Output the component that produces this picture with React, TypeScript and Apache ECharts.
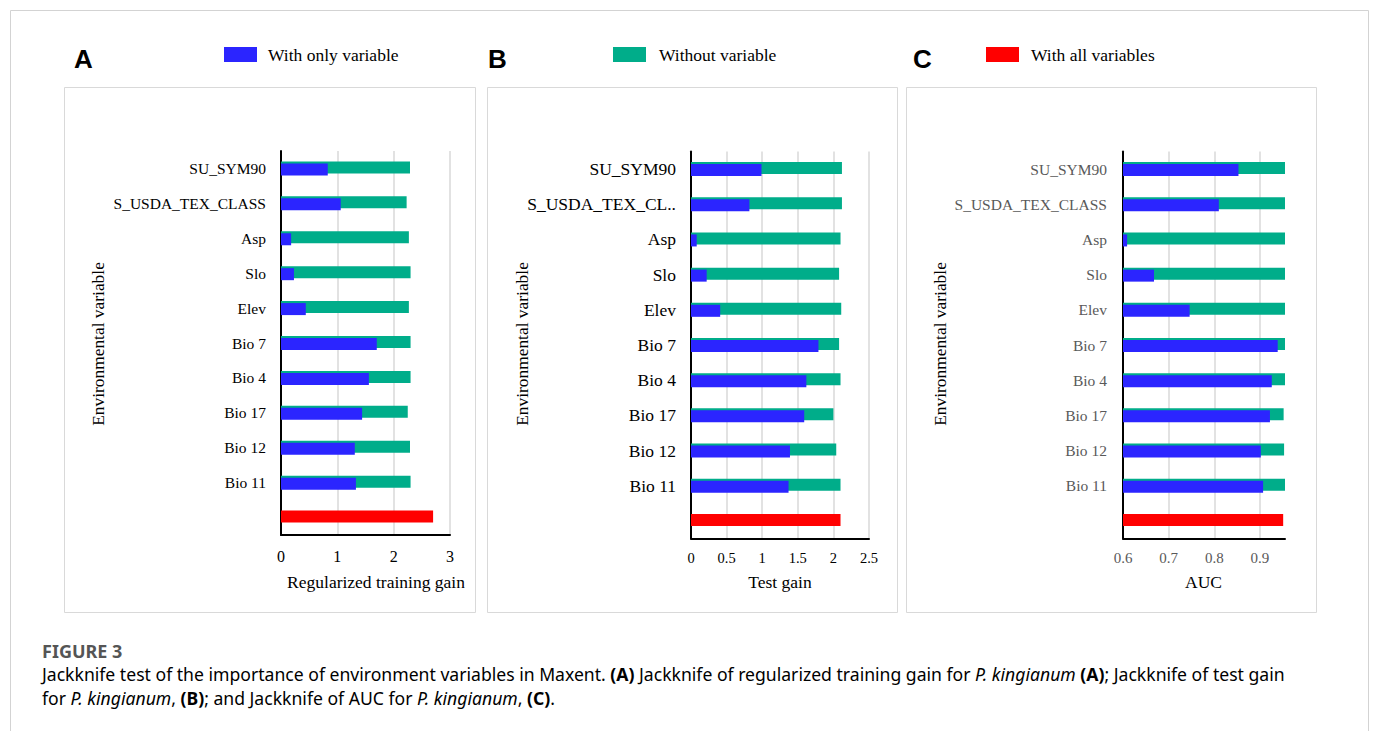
import React, { useEffect, useRef } from 'react';
import * as echarts from 'echarts';

const categories = ['SU_SYM90', 'S_USDA_TEX_CLASS', 'Asp', 'Slo', 'Elev', 'Bio 7', 'Bio 4', 'Bio 17', 'Bio 12', 'Bio 11', ''];

// Panel A: regularized training gain
const trainOnly = [0.83, 1.06, 0.18, 0.23, 0.44, 1.70, 1.56, 1.44, 1.31, 1.33];
const trainWithout = [2.29, 2.23, 2.27, 2.30, 2.27, 2.30, 2.30, 2.25, 2.29, 2.30];
const trainAll = 2.70;

// Panel B: test gain
const testOnly = [0.99, 0.82, 0.08, 0.22, 0.41, 1.79, 1.62, 1.59, 1.39, 1.37];
const testWithout = [2.12, 2.12, 2.10, 2.08, 2.11, 2.08, 2.10, 2.00, 2.04, 2.10];
const testAll = 2.10;

// Panel C: AUC
const aucOnly = [0.853, 0.810, 0.609, 0.668, 0.746, 0.939, 0.926, 0.922, 0.902, 0.907];
const aucWithout = [0.955, 0.955, 0.955, 0.955, 0.955, 0.955, 0.955, 0.952, 0.953, 0.955];
const aucAll = 0.951;

const xTitles = ['Regularized training gain', 'Test gain', 'AUC'];
const panelLetters = ['A', 'B', 'C'];
const legendNames = ['With only variable', 'Without variable', 'With all variables'];

const BLUE = '#2b25ff';
const GREEN = '#00ad8a';
const RED = '#ff0000';
const SERIF = "'Liberation Serif', 'Times New Roman', serif";
const SANS = "'Liberation Sans', Arial, sans-serif";
const CAP = "'Noto Sans', 'Open Sans', sans-serif";

function panelSeries(idx: number, only: number[], without: number[], all: number) {
  const green: (number | string)[] = [...without, '-'];
  const red: (number | string)[] = categories.map((_, i) => (i === categories.length - 1 ? all : '-'));
  const blue: (number | string)[] = [...only, '-'];
  const common = { type: 'bar', xAxisIndex: idx, yAxisIndex: idx, barWidth: 12, barGap: '-83.33%' };
  return [
    { ...common, name: legendNames[1], data: green, stack: 'g' + idx, itemStyle: { color: GREEN }, z: 2 },
    { ...common, name: legendNames[2], data: red, stack: 'g' + idx, itemStyle: { color: RED }, z: 2 },
    { ...common, name: legendNames[0], data: blue, itemStyle: { color: BLUE }, z: 3 },
  ];
}

export default function App() {
  const ref = useRef<HTMLDivElement>(null);
  useEffect(() => {
    if (!ref.current) return;
    const chart = echarts.init(ref.current, null, { renderer: 'svg' });

    const grids = [
      { left: 281, top: 151, width: 169, height: 384 },
      { left: 691, top: 151.5, width: 178, height: 387 },
      { left: 1123, top: 151.5, width: 162, height: 387 },
    ];
    const labelColors = ['#000', '#000', '#595959'];
    const yLabelSizes = [15.5, 17.5, 15.5];
    const yLabelMargins = [15, 15, 16];
    const xLabelSizes = [16, 14.5, 15];
    const xLabelMargins = [13.5, 12, 12];
    const xRanges = [
      { min: 0, max: 3, interval: 1 },
      { min: 0, max: 2.5, interval: 0.5 },
      { min: 0.6, max: 0.955, interval: 0.1 },
    ];

    const xAxis = xRanges.map((r, i) => ({
      type: 'value',
      gridIndex: i,
      min: r.min,
      max: r.max,
      interval: r.interval,
      axisLine: { show: true, lineStyle: { color: '#000', width: 2 } },
      axisTick: { show: false },
      splitLine: { show: true, showMaxLine: i !== 2, lineStyle: { color: '#d9d9d9', width: 1.5 } },
      axisLabel: {
        color: labelColors[i],
        fontFamily: SERIF,
        fontSize: xLabelSizes[i],
        margin: xLabelMargins[i],
        showMaxLabel: i !== 2,
      },
    }));

    const yAxis = [0, 1, 2].map((i) => ({
      type: 'category',
      gridIndex: i,
      data: categories,
      inverse: true,
      axisLine: { show: true, lineStyle: { color: '#000', width: 2 } },
      axisTick: { show: false },
      axisLabel: {
        color: labelColors[i],
        fontFamily: SERIF,
        fontSize: yLabelSizes[i],
        margin: yLabelMargins[i],
        interval: 0,
        ...(i === 1 ? { width: 158, overflow: 'truncate', ellipsis: '..' } : {}),
      },
    }));

    const legendPos = [
      { left: 224, gap: 6 },
      { left: 613, gap: 8 },
      { left: 986, gap: 7 },
    ];
    const legend = legendNames.map((n, i) => ({
      data: [n],
      left: legendPos[i].left,
      top: 45.5,
      padding: 0,
      icon: 'rect',
      itemWidth: 33,
      itemHeight: 15,
      selectedMode: false,
      textStyle: { fontFamily: SERIF, fontSize: 17.5, color: '#000', padding: [0, 0, 0, legendPos[i].gap] },
    }));

    const boxes = [
      { x: 64, w: 411 },
      { x: 487, w: 410 },
      { x: 906, w: 410 },
    ];
    const letterX = [74, 488, 913];
    const yTitleX = [98, 522, 940];
    const xTitleX = [376, 780, 1203.5];

    const graphic: any[] = [
      {
        type: 'rect',
        shape: { x: 10.5, y: 10.5, width: 1358, height: 800 },
        style: { fill: 'none', stroke: '#d3d3d3', lineWidth: 1 },
        silent: true,
      },
    ];
    boxes.forEach((b, i) => {
      graphic.push({
        type: 'rect',
        shape: { x: b.x + 0.5, y: 87.5, width: b.w, height: 525 },
        style: { fill: 'none', stroke: '#d9d9d9', lineWidth: 1 },
        silent: true,
      });
      graphic.push({
        type: 'text',
        x: letterX[i],
        y: 58.5,
        style: { text: panelLetters[i], font: `bold 26px ${SANS}`, fill: '#000', textAlign: 'left', textVerticalAlign: 'middle', align: 'left', verticalAlign: 'middle' },
      });
      graphic.push({
        type: 'text',
        x: yTitleX[i],
        y: 344,
        rotation: Math.PI / 2,
        style: { text: 'Environmental variable', font: `17.4px ${SERIF}`, fill: '#000', textAlign: 'center', textVerticalAlign: 'middle', align: 'center', verticalAlign: 'middle' },
      });
      graphic.push({
        type: 'text',
        x: xTitleX[i],
        y: 581.5,
        style: { text: xTitles[i], font: `17.5px ${SERIF}`, fill: '#000', textAlign: 'center', textVerticalAlign: 'middle', align: 'center', verticalAlign: 'middle' },
      });
    });

    const CAPSIZE = 17.6;
    const rich = {
      n: { fontFamily: CAP, fontSize: CAPSIZE, color: '#6b6b6b' },
      i: { fontFamily: CAP, fontSize: CAPSIZE, color: '#6b6b6b', fontStyle: 'italic' },
      b: { fontFamily: CAP, fontSize: CAPSIZE, color: '#555', fontWeight: 'bold' },
    };
    graphic.push({
      type: 'text',
      x: 42,
      y: 651,
      style: { text: 'FIGURE 3', font: `bold 18px ${CAP}`, fill: '#555', textAlign: 'left', textVerticalAlign: 'middle', align: 'left', verticalAlign: 'middle' },
    });
    graphic.push({
      type: 'text',
      x: 42,
      y: 674,
      style: {
        text:
          '{n|Jackknife test of the importance of environment variables in Maxent. }{b|(A)}{n| Jackknife of regularized training gain for }{i|P. kingianum}{n| }{b|(A)}{n|; Jackknife of test gain}',
        rich,
        textAlign: 'left', textVerticalAlign: 'middle', align: 'left', verticalAlign: 'middle',
      },
    });
    graphic.push({
      type: 'text',
      x: 42,
      y: 698,
      style: {
        text: '{n|for }{i|P. kingianum}{n|, }{b|(B)}{n|; and Jackknife of AUC for }{i|P. kingianum}{n|, }{b|(C)}{n|.}',
        rich,
        textAlign: 'left', textVerticalAlign: 'middle', align: 'left', verticalAlign: 'middle',
      },
    });

    chart.setOption({
      animation: false,
      backgroundColor: '#fff',
      grid: grids,
      xAxis,
      yAxis,
      legend,
      graphic,
      series: [
        ...panelSeries(0, trainOnly, trainWithout, trainAll),
        ...panelSeries(1, testOnly, testWithout, testAll),
        ...panelSeries(2, aucOnly, aucWithout, aucAll),
      ],
    });
    return () => chart.dispose();
  }, []);
  return <div ref={ref} style={{ position: 'absolute', left: 0, top: 0, width: 1373, height: 731 }} />;
}
